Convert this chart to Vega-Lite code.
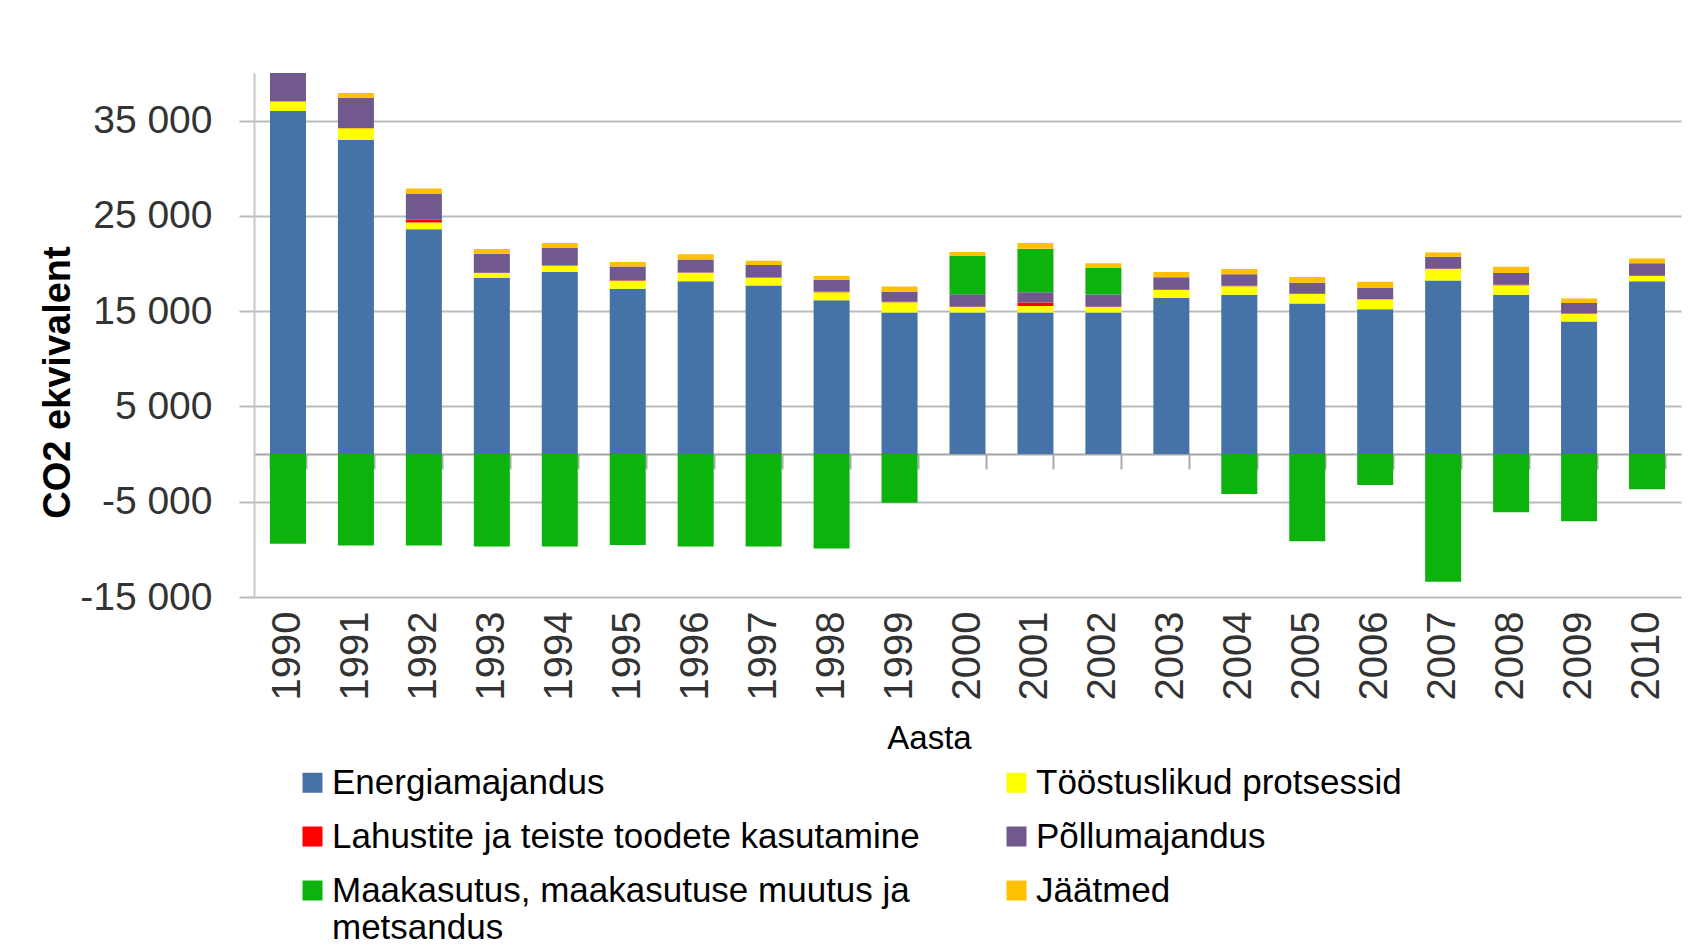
{
  "$schema": "https://vega.github.io/schema/vega-lite/v6.json",
  "width": 1427,
  "height": 524,
  "autosize": {"type": "none"},
  "padding": {"left": 254, "top": 73, "right": 17, "bottom": 352},
  "background": "white",
  "config": {
    "locale": {"number": {"decimal": ",", "thousands": " ", "grouping": [3], "currency": ["", " €"], "minus": "-"}},
    "view": {"stroke": null},
    "font": "Liberation Sans"
  },
  "data": {
    "values": [
      {"aasta": "1990", "Energiamajandus": 36000, "Tööstuslikud protsessid": 1000, "Lahustite ja teiste toodete kasutamine": 40, "Põllumajandus": 3300, "Maakasutus, maakasutuse muutus ja metsandus": -9400, "Jäätmed": 500},
      {"aasta": "1991", "Energiamajandus": 33000, "Tööstuslikud protsessid": 1200, "Lahustite ja teiste toodete kasutamine": 40, "Põllumajandus": 3150, "Maakasutus, maakasutuse muutus ja metsandus": -9600, "Jäätmed": 500},
      {"aasta": "1992", "Energiamajandus": 23600, "Tööstuslikud protsessid": 700, "Lahustite ja teiste toodete kasutamine": 300, "Põllumajandus": 2750, "Maakasutus, maakasutuse muutus ja metsandus": -9600, "Jäätmed": 520},
      {"aasta": "1993", "Energiamajandus": 18500, "Tööstuslikud protsessid": 500, "Lahustite ja teiste toodete kasutamine": 40, "Põllumajandus": 2000, "Maakasutus, maakasutuse muutus ja metsandus": -9700, "Jäätmed": 480},
      {"aasta": "1994", "Energiamajandus": 19100, "Tööstuslikud protsessid": 700, "Lahustite ja teiste toodete kasutamine": 40, "Põllumajandus": 1800, "Maakasutus, maakasutuse muutus ja metsandus": -9700, "Jäätmed": 520},
      {"aasta": "1995", "Energiamajandus": 17350, "Tööstuslikud protsessid": 850, "Lahustite ja teiste toodete kasutamine": 40, "Põllumajandus": 1450, "Maakasutus, maakasutuse muutus ja metsandus": -9550, "Jäätmed": 480},
      {"aasta": "1996", "Energiamajandus": 18150, "Tööstuslikud protsessid": 880, "Lahustite ja teiste toodete kasutamine": 40, "Põllumajandus": 1350, "Maakasutus, maakasutuse muutus ja metsandus": -9700, "Jäätmed": 550},
      {"aasta": "1997", "Energiamajandus": 17700, "Tööstuslikud protsessid": 800, "Lahustite ja teiste toodete kasutamine": 40, "Põllumajandus": 1300, "Maakasutus, maakasutuse muutus ja metsandus": -9700, "Jäätmed": 450},
      {"aasta": "1998", "Energiamajandus": 16150, "Tööstuslikud protsessid": 850, "Lahustite ja teiste toodete kasutamine": 40, "Põllumajandus": 1250, "Maakasutus, maakasutuse muutus ja metsandus": -9900, "Jäätmed": 400},
      {"aasta": "1999", "Energiamajandus": 14850, "Tööstuslikud protsessid": 1100, "Lahustite ja teiste toodete kasutamine": 40, "Põllumajandus": 1050, "Maakasutus, maakasutuse muutus ja metsandus": -5100, "Jäätmed": 550},
      {"aasta": "2000", "Energiamajandus": 14850, "Tööstuslikud protsessid": 600, "Lahustite ja teiste toodete kasutamine": 40, "Põllumajandus": 1300, "Maakasutus, maakasutuse muutus ja metsandus": 4000, "Jäätmed": 420},
      {"aasta": "2001", "Energiamajandus": 14850, "Tööstuslikud protsessid": 700, "Lahustite ja teiste toodete kasutamine": 350, "Põllumajandus": 1100, "Maakasutus, maakasutuse muutus ja metsandus": 4550, "Jäätmed": 600},
      {"aasta": "2002", "Energiamajandus": 14850, "Tööstuslikud protsessid": 600, "Lahustite ja teiste toodete kasutamine": 40, "Põllumajandus": 1250, "Maakasutus, maakasutuse muutus ja metsandus": 2800, "Jäätmed": 500},
      {"aasta": "2003", "Energiamajandus": 16420, "Tööstuslikud protsessid": 800, "Lahustite ja teiste toodete kasutamine": 40, "Põllumajandus": 1300, "Maakasutus, maakasutuse muutus ja metsandus": 0, "Jäätmed": 550},
      {"aasta": "2004", "Energiamajandus": 16730, "Tööstuslikud protsessid": 900, "Lahustite ja teiste toodete kasutamine": 40, "Põllumajandus": 1200, "Maakasutus, maakasutuse muutus ja metsandus": -4200, "Jäätmed": 550},
      {"aasta": "2005", "Energiamajandus": 15800, "Tööstuslikud protsessid": 1000, "Lahustite ja teiste toodete kasutamine": 40, "Põllumajandus": 1150, "Maakasutus, maakasutuse muutus ja metsandus": -9150, "Jäätmed": 600},
      {"aasta": "2006", "Energiamajandus": 15200, "Tööstuslikud protsessid": 1050, "Lahustite ja teiste toodete kasutamine": 40, "Põllumajandus": 1150, "Maakasutus, maakasutuse muutus ja metsandus": -3250, "Jäätmed": 650},
      {"aasta": "2007", "Energiamajandus": 18230, "Tööstuslikud protsessid": 1200, "Lahustite ja teiste toodete kasutamine": 40, "Põllumajandus": 1250, "Maakasutus, maakasutuse muutus ja metsandus": -13400, "Jäätmed": 450},
      {"aasta": "2008", "Energiamajandus": 16730, "Tööstuslikud protsessid": 1000, "Lahustite ja teiste toodete kasutamine": 40, "Põllumajandus": 1250, "Maakasutus, maakasutuse muutus ja metsandus": -6100, "Jäätmed": 650},
      {"aasta": "2009", "Energiamajandus": 13930, "Tööstuslikud protsessid": 800, "Lahustite ja teiste toodete kasutamine": 40, "Põllumajandus": 1100, "Maakasutus, maakasutuse muutus ja metsandus": -7050, "Jäätmed": 450},
      {"aasta": "2010", "Energiamajandus": 18130, "Tööstuslikud protsessid": 550, "Lahustite ja teiste toodete kasutamine": 40, "Põllumajandus": 1300, "Maakasutus, maakasutuse muutus ja metsandus": -3700, "Jäätmed": 500}
    ]
  },
  "transform": [
    {"fold": ["Energiamajandus", "Tööstuslikud protsessid", "Lahustite ja teiste toodete kasutamine", "Põllumajandus", "Maakasutus, maakasutuse muutus ja metsandus", "Jäätmed"], "as": ["sektor", "vaartus"]},
    {"calculate": "indexof(['Energiamajandus', 'Tööstuslikud protsessid', 'Lahustite ja teiste toodete kasutamine', 'Põllumajandus', 'Maakasutus, maakasutuse muutus ja metsandus', 'Jäätmed'], datum.sektor)", "as": "jrk"}
  ],
  "layer": [
    {
      "mark": {"type": "bar", "clip": true},
      "encoding": {
        "x": {
          "field": "aasta", "type": "ordinal",
          "scale": {"paddingInner": 0.47, "paddingOuter": 0.235},
          "axis": {
            "orient": "bottom", "labelAngle": -90, "labelFontSize": 40, "labelPadding": 14, "labelColor": "#333333",
            "domain": false, "ticks": false, "grid": false,
            "title": "Aasta", "titleFontSize": 33, "titleFontWeight": "normal", "titleColor": "#000000",
            "titleX": 675, "titleY": 125, "titleBaseline": "top", "titleAlign": "center"
          }
        },
        "y": {
          "field": "vaartus", "type": "quantitative", "stack": "zero",
          "scale": {"domain": [-15000, 40000], "nice": false},
          "axis": {
            "values": [-15000, -5000, 5000, 15000, 25000, 35000], "format": ",d",
            "labelFontSize": 39, "labelColor": "#333333", "labelPadding": 27,
            "tickSize": 15, "tickColor": "#BBBBBB", "tickWidth": 2,
            "gridColor": "#BBBBBB", "gridWidth": 2,
            "domainColor": "#C8C8C8", "domainWidth": 2,
            "title": "CO2 ekvivalent", "titleFontSize": 38, "titleFontWeight": "bold", "titleColor": "#000000",
            "titleX": -196, "titleY": 309, "titleAngle": -90, "titleAlign": "center", "titleBaseline": "middle"
          }
        },
        "color": {
          "field": "sektor", "type": "nominal",
          "scale": {
            "domain": ["Energiamajandus", "Lahustite ja teiste toodete kasutamine", "Maakasutus, maakasutuse muutus ja metsandus", "Tööstuslikud protsessid", "Põllumajandus", "Jäätmed"],
            "range": ["#4572A7", "#FF0000", "#0DB30D", "#FFFF00", "#71588F", "#FFC000"]
          },
          "legend": {
            "orient": "none", "legendX": 41, "legendY": 692, "columns": 2, "columnPadding": 79, "rowPadding": 18,
            "symbolType": "square", "symbolSize": 400, "symbolStrokeWidth": 0,
            "labelFontSize": 35, "labelOffset": 2, "labelLimit": 1000, "labelColor": "#000000",
            "title": null, "padding": 0,
            "labelExpr": "datum.label == 'Maakasutus, maakasutuse muutus ja metsandus' ? ['Maakasutus, maakasutuse muutus ja', 'metsandus'] : datum.label"
          }
        },
        "order": {"field": "jrk", "type": "quantitative"}
      }
    },
    {
      "mark": {"type": "tick", "opacity": 0},
      "encoding": {
        "x": {
          "field": "aasta", "type": "ordinal",
          "axis": {
            "orient": "bottom", "offset": -143, "labels": false, "ticks": true, "tickBand": "extent",
            "tickSize": 15, "tickColor": "#AAAAAA", "tickWidth": 2,
            "domain": true, "domainColor": "#A6A6A6", "domainWidth": 2, "grid": false, "title": null
          }
        }
      }
    }
  ],
  "resolve": {"axis": {"x": "independent"}}
}
